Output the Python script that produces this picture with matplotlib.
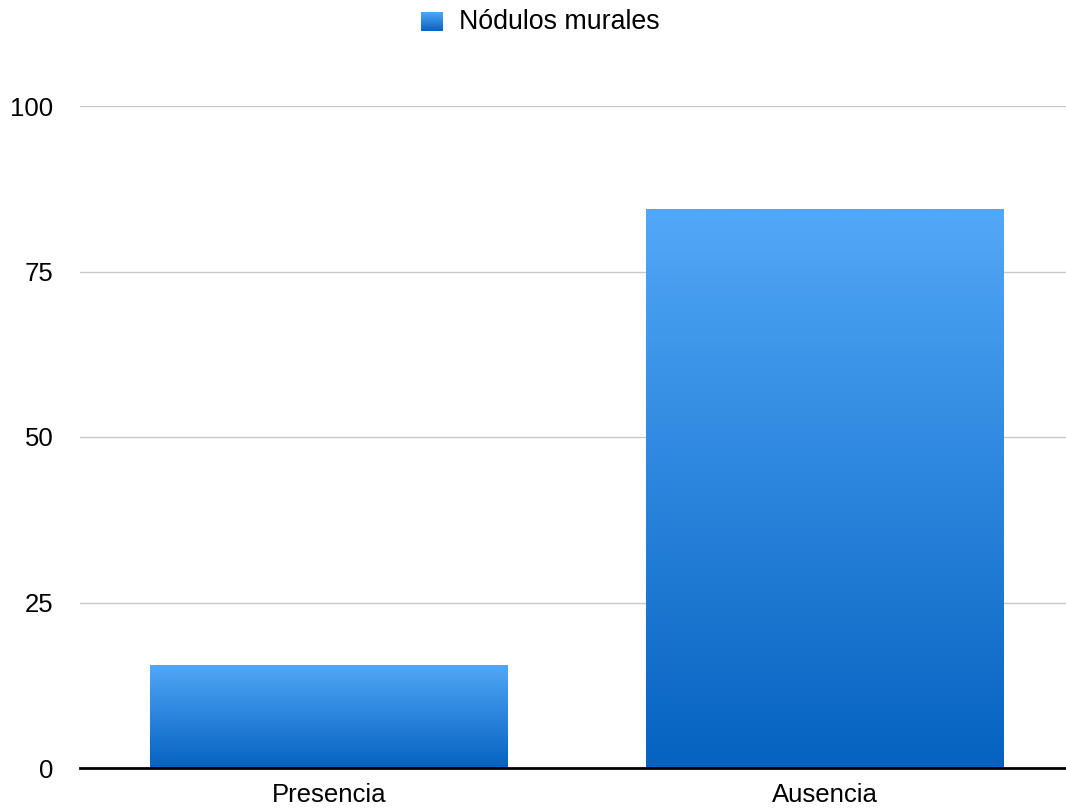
import matplotlib.pyplot as plt
import numpy as np
from matplotlib.colors import LinearSegmentedColormap

categories = ['Presencia', 'Ausencia']
values = [15.6, 84.4]
series_name = 'Nódulos murales'
yticks = [0, 25, 50, 75, 100]

plt.rcParams['font.family'] = ['Liberation Sans', 'DejaVu Sans']
plt.rcParams['font.size'] = 18.5

# vertical blue gradient used for every bar and the legend key
grad = LinearSegmentedColormap.from_list('blue_grad', ['#0562c0', '#52a8f8'])
ramp = np.linspace(0, 1, 256).reshape(-1, 1)

fig = plt.figure(figsize=(10.66, 8.08), dpi=100)
ax = fig.add_axes([80 / 1066, 40 / 808, 986 / 1066, 662 / 808])

x = np.arange(len(categories))
bars = ax.bar(x, values, width=0.72, facecolor='none', edgecolor='none', zorder=2)
for b in bars:
    x0, y0 = b.get_x(), b.get_y()
    w, h = b.get_width(), b.get_height()
    im = ax.imshow(ramp, cmap=grad, origin='lower', aspect='auto',
                   extent=[x0, x0 + w, y0, y0 + h], zorder=2)
    im.set_clip_path(b)

ax.set_xlim(-0.502, 1.486)
ax.set_ylim(0, 100)
ax.set_yticks(yticks)
ax.set_yticklabels([str(t) for t in yticks])
ax.set_xticks(x)
ax.set_xticklabels(categories)
ax.tick_params(axis='y', length=0, pad=19)
ax.tick_params(axis='x', length=0, pad=11)
ax.yaxis.grid(True, color='#c8c8c8', linewidth=1)
ax.set_axisbelow(True)
for s in ['top', 'right', 'left']:
    ax.spines[s].set_visible(False)
ax.spines['bottom'].set_color('black')
ax.spines['bottom'].set_linewidth(2)
ax.spines['bottom'].set_zorder(3)

# legend key with the same gradient
kax = fig.add_axes([421 / 1066, 1 - 31 / 808, 22 / 1066, 19 / 808])
kax.imshow(ramp, cmap=grad, origin='lower', aspect='auto')
kax.axis('off')
fig.text(459 / 1066, 1 - 22 / 808, series_name, va='center', ha='left', fontsize=19.3)

fig.savefig('out.png', dpi=100)
